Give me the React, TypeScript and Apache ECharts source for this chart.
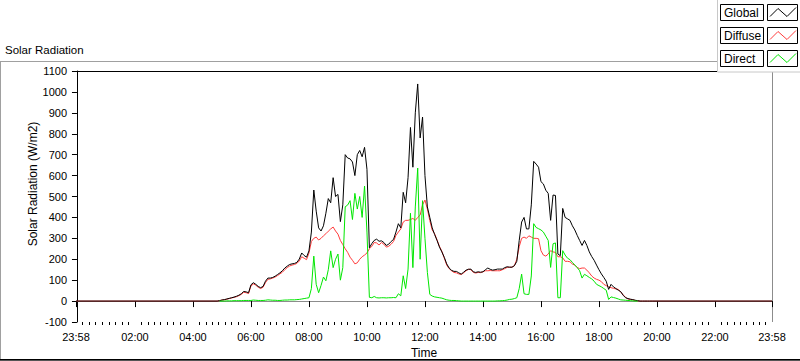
import React, { useEffect, useRef } from "react";
import * as echarts from "echarts";

// time grid: minutes after midnight, first sample 04:50, every 5 minutes
const startMinute = 290;
const stepMinutes = 5;
const axisMin = -2; // 23:58 of the previous day
const axisMax = 1438; // 23:58

const tickValues = [-2, 120, 240, 360, 480, 600, 720, 840, 960, 1080, 1200, 1320, 1438];
const tickLabels = ["23:58", "02:00", "04:00", "06:00", "08:00", "10:00", "12:00", "14:00", "16:00", "18:00", "20:00", "22:00", "23:58"];

const globalValues = [
  0, 2,
  5, 7, 10, 13, 16, 19, 23, 28, 35, 46, 44, 40,
  78, 88, 80, 70, 64, 70, 95, 110, 110, 113, 119, 127,
  135, 145, 158, 167, 175, 178, 180, 185, 201, 230, 218, 210,
  240, 330, 531, 430, 350, 335, 360, 420, 490, 470, 590, 500,
  510, 380, 460, 700, 684, 680, 665, 600, 700, 720, 690, 735,
  630, 255, 275, 290, 296, 286, 288, 280, 266, 272, 285, 295,
  330, 370, 350, 520, 470, 590, 830, 640, 900, 1038, 780, 880,
  600, 450, 400, 350, 318, 290, 258, 235, 209, 178, 158, 147,
  142, 142, 135, 129, 138, 148, 152, 153, 140, 137, 140, 138,
  140, 150, 158, 152, 148, 150, 153, 153, 153, 160, 164, 162,
  162, 169, 190, 290, 378, 400, 345, 345, 460, 668, 655, 640,
  571, 560, 530, 515, 386, 507, 505, 225, 217, 443, 400, 393,
  386, 360, 340, 314, 290, 266, 290, 266, 235, 213, 195, 172,
  150, 130, 113, 95, 56, 80, 68, 60, 52, 45, 28, 16,
  12, 9, 7, 4, 2, 0, 0, 0, 0, 0, 0,
];

const diffuseValues = [
  0, 2,
  5, 6, 9, 12, 15, 18, 21, 26, 32, 42, 40, 36,
  72, 82, 76, 66, 60, 66, 88, 104, 106, 110, 115, 122,
  130, 138, 150, 160, 168, 172, 175, 180, 192, 212, 205, 198,
  230, 285, 300, 306, 292, 300, 312, 322, 334, 345, 354, 335,
  320, 290, 270, 250, 233, 210, 195, 178, 183, 200, 212, 220,
  230, 250, 262, 280, 278, 268, 280, 272, 258, 262, 272, 285,
  314, 330, 345, 378, 386, 386, 390, 395, 386, 400, 411, 460,
  483, 440, 385, 340, 322, 292, 262, 238, 205, 172, 155, 145,
  137, 135, 130, 127, 135, 145, 152, 150, 137, 134, 137, 136,
  140, 145, 145, 146, 145, 145, 145, 145, 150, 155, 161, 162,
  162, 169, 200, 260, 300, 306, 300, 312, 306, 300, 300, 298,
  241, 220, 215, 225, 241, 235, 233, 212, 212, 207, 190, 190,
  188, 177, 172, 161, 155, 158, 158, 148, 135, 120, 110, 104,
  100, 93, 80, 74, 68, 64, 61, 58, 56, 44, 30, 18,
  10, 8, 6, 3, 1, 0, 0, 0, 0, 0, 0,
];

const directValues: (number | null)[] = [
  null, 0,
  0, 0, 1, 1, 1, 2, 2, 2, 2, 3, 3, 3,
  3, 5, 4, 3, 3, 3, 4, 6, 5, 4, 4, 3,
  3, 4, 5, 5, 6, 6, 6, 7, 8, 10, 12, 14,
  16, 60, 215, 80, 40, 75, 115, 97, 150, 240, 160, 200,
  225, 100, 160, 451, 459, 480, 390, 515, 440, 500, 400, 550,
  330, 18, 16, 22, 16, 15, 16, 16, 15, 16, 16, 17,
  16, 35, 25, 121, 60, 153, 420, 160, 450, 636, 200, 480,
  300, 137, 32, 24, 20, 18, 16, 14, 10, 6, 4, 3,
  3, 2, 1, 0, 0, 0, 0, 0, 0, 0, 0, 0,
  0, 0, 0, 0, 0, 0, 1, 1, 2, 3, 5, 8,
  9, 12, 16, 60, 129, 35, 32, 32, 120, 370, 352, 346,
  340, 330, 310, 290, 161, 274, 278, 16, 16, 241, 220, 205,
  198, 185, 172, 160, 145, 110, 128, 121, 113, 106, 95, 80,
  74, 68, 60, 52, 8, 20, 17, 14, 10, 6, 5, 4,
  3, 2, 1, 0, 0, null, null, null, null, null, null,
];

const seriesNames = ["Global", "Diffuse", "Direct"];
const seriesColors = ["#000000", "#ff3c3c", "#00e600"];

const FONT = "'Liberation Sans', Arial, sans-serif";

function buildPairs(vals: (number | null)[], withNight: boolean) {
  const pts: (number | null)[][] = vals.map((v, i) => [startMinute + i * stepMinutes, v]);
  if (withNight) return [[axisMin, 0], ...pts, [axisMax, 0]];
  return pts;
}

function minorTicks() {
  const out: number[] = [];
  for (let i = 0; i < tickValues.length - 1; i++) {
    const a = tickValues[i];
    const b = tickValues[i + 1];
    for (let k = 1; k < 9; k++) out.push(a + ((b - a) * k) / 9);
  }
  return out;
}

export default function App() {
  const ref = useRef<HTMLDivElement>(null);
  useEffect(() => {
    if (!ref.current) return;
    const chart = echarts.init(ref.current, undefined, { renderer: "svg" });

    const legendItems: any[] = [];
    seriesNames.forEach((name, i) => {
      const y0 = 4.5 + i * 23;
      legendItems.push({
        type: "rect",
        shape: { x: 720.5, y: y0, width: 43, height: 16 },
        style: { fill: "#fff", stroke: "#000", lineWidth: 1 },
        z: 101,
      });
      legendItems.push({
        type: "text",
        x: 724,
        y: y0 + 8.5,
        style: { text: name, fill: "#000", font: `12px ${FONT}`, verticalAlign: "middle", align: "left" },
        z: 102,
      });
      legendItems.push({
        type: "rect",
        shape: { x: 767.5, y: y0, width: 30, height: 16 },
        style: { fill: "#fff", stroke: "#000", lineWidth: 1 },
        z: 101,
      });
      legendItems.push({
        type: "polyline",
        shape: { points: [[770, y0 + 12], [778, y0 + 4], [787, y0 + 12], [796, y0 + 3]] },
        style: { stroke: seriesColors[i], lineWidth: 1, fill: "none" },
        z: 102,
      });
    });

    const option: any = {
      animation: false,
      backgroundColor: "#ffffff",
      grid: { left: 76, right: 28, top: 71, bottom: 39, containLabel: false, outerBoundsMode: "none" },
      xAxis: [
        {
          type: "value",
          min: axisMin,
          max: axisMax,
          position: "bottom",
          axisLine: { show: true, lineStyle: { color: "#8c8c8c", width: 1 } },
          axisTick: { show: true, customValues: tickValues, length: 6, lineStyle: { color: "#000" } },
          axisLabel: {
            customValues: tickValues,
            formatter: (v: number) => {
              const idx = tickValues.indexOf(Math.round(v));
              return idx >= 0 ? tickLabels[idx] : "";
            },
            margin: 9,
            color: "#000",
            fontSize: 11,
            fontFamily: FONT,
          },
          splitLine: { show: false },
          name: "Time",
          nameLocation: "middle",
          nameGap: 25,
          nameTextStyle: { color: "#000", fontSize: 12, fontFamily: FONT },
        },
        {
          type: "value",
          min: axisMin,
          max: axisMax,
          position: "bottom",
          axisLine: { show: false },
          axisTick: { show: true, customValues: minorTicks(), length: 3, lineStyle: { color: "#000" } },
          axisLabel: { show: false },
          splitLine: { show: false },
        },
      ],
      yAxis: {
        type: "value",
        min: -100,
        max: 1100,
        interval: 100,
        axisLine: { show: true, lineStyle: { color: "#000" } },
        axisTick: { show: true, length: 5, lineStyle: { color: "#000" } },
        axisLabel: { margin: 9, color: "#000", fontSize: 11, fontFamily: FONT, formatter: (v: number) => String(v) },
        splitLine: { show: false },
      },
      graphic: [
        {
          type: "text",
          x: 5,
          y: 50,
          style: { text: "Solar Radiation", fill: "#000", font: `11.5px ${FONT}`, verticalAlign: "middle" },
        },
        { type: "line", shape: { x1: 0, y1: 61.5, x2: 717, y2: 61.5 }, style: { stroke: "#a0a0a0", lineWidth: 1 } },
        { type: "line", shape: { x1: 0.5, y1: 61, x2: 0.5, y2: 360 }, style: { stroke: "#a0a0a0", lineWidth: 1 } },
        { type: "line", shape: { x1: 0, y1: 359.5, x2: 800, y2: 359.5 }, style: { stroke: "#000", lineWidth: 1 } },
        { type: "line", shape: { x1: 0, y1: 360.5, x2: 800, y2: 360.5 }, style: { stroke: "#555", lineWidth: 1 } },
        { type: "line", shape: { x1: 75, y1: 71.5, x2: 772, y2: 71.5 }, style: { stroke: "#000", lineWidth: 1 } },
        { type: "line", shape: { x1: 772.5, y1: 71, x2: 772.5, y2: 322 }, style: { stroke: "#8c8c8c", lineWidth: 1 } },
        {
          type: "text",
          x: 33,
          y: 184,
          rotation: Math.PI / 2,
          style: {
            text: "Solar Radiation (W/m2)",
            fill: "#000",
            font: `12px ${FONT}`,
            align: "center",
            verticalAlign: "middle",
          },
        },
        {
          type: "rect",
          shape: { x: 717.5, y: -1, width: 84, height: 73 },
          style: { fill: "#fff", stroke: "#c8c8c8", lineWidth: 1 },
          z: 100,
        },
        ...legendItems,
      ],
      series: [
        {
          name: "Diffuse",
          type: "line",
          xAxisIndex: 0,
          data: buildPairs(diffuseValues, true),
          showSymbol: false,
          symbol: "none",
          lineStyle: { color: seriesColors[1], width: 1 },
          itemStyle: { color: seriesColors[1] },
          silent: true,
        },
        {
          name: "Global",
          type: "line",
          xAxisIndex: 0,
          data: buildPairs(globalValues, true),
          showSymbol: false,
          symbol: "none",
          lineStyle: { color: seriesColors[0], width: 1 },
          itemStyle: { color: seriesColors[0] },
          silent: true,
        },
        {
          name: "Direct",
          type: "line",
          xAxisIndex: 0,
          data: buildPairs(directValues, false),
          showSymbol: false,
          symbol: "none",
          connectNulls: false,
          lineStyle: { color: seriesColors[2], width: 1 },
          itemStyle: { color: seriesColors[2] },
          silent: true,
        },
      ],
    };
    chart.setOption(option);
    return () => chart.dispose();
  }, []);

  return (
    <div
      ref={ref}
      style={{ position: "fixed", left: 0, top: 0, width: 800, height: 361, background: "#fff" }}
    />
  );
}
